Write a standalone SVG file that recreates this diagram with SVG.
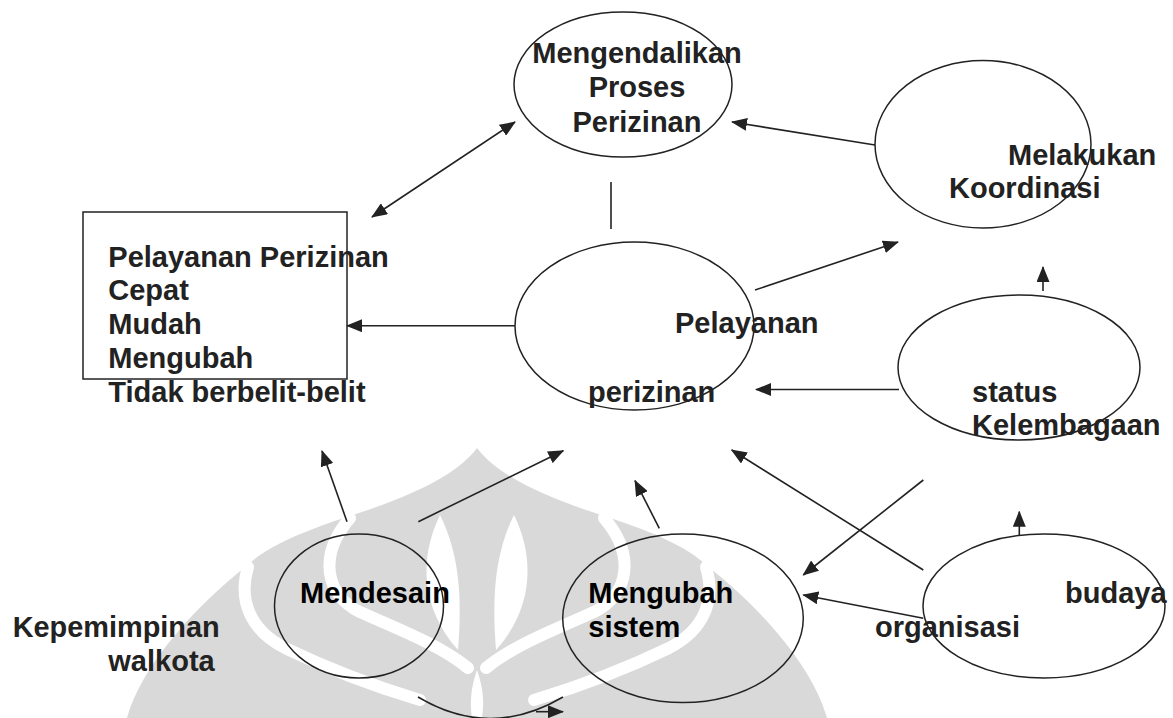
<svg xmlns="http://www.w3.org/2000/svg" width="1173" height="718" viewBox="0 0 1173 718">
<style>
.t{font-family:"Liberation Sans",Arial,sans-serif;font-weight:bold;font-size:29px;fill:#222}
.tb{fill:#000}
.n{fill:none;stroke:#222;stroke-width:1.5}
.c{fill:none;stroke:#222;stroke-width:1.6}
.a{marker-end:url(#ah)}
.wm{fill:#d9d9d9}
.wb{fill:none;stroke:#fff;stroke-width:12;stroke-linecap:round}
</style>
<defs>
<marker id="ah" markerUnits="userSpaceOnUse" markerWidth="16" markerHeight="13" refX="15" refY="6.5" orient="auto-start-reverse" viewBox="0 0 16 13">
<path d="M0,0 L16,6.5 L0,13 z" fill="#222"/>
</marker>
</defs>
<rect width="1173" height="718" fill="#fff"/>
<g id="watermark">
<path class="wm" d="M477,448 C455,478 400,500 350,516 C300,532 265,548 248,565 C190,610 140,670 127,718 L827,718 C814,670 764,610 706,565 C689,548 654,532 604,516 C554,500 499,478 477,448 Z"/>
<path class="wb" d="M350,518 C318,555 325,595 360,612 C400,630 440,645 468,668"/>
<path class="wb" d="M604,518 C636,555 629,595 594,612 C554,630 514,645 486,668"/>
<path class="wb" d="M248,567 C238,600 250,630 285,648 C320,665 360,682 420,700"/>
<path class="wb" d="M706,567 C716,600 704,630 669,648 C634,665 594,682 534,700"/>
<path fill="#fff" d="M440,515 C418,560 422,610 458,650 C462,600 460,555 440,515 Z"/>
<path fill="#fff" d="M514,515 C536,560 532,610 496,650 C492,600 494,555 514,515 Z"/>
<path fill="#fff" d="M477,670 C470,690 470,705 472,718 L482,718 C484,705 484,690 477,670 Z"/>
</g>
<g id="connectors">
<line class="c a" x1="372" y1="217" x2="515" y2="122" marker-start="url(#ah)"/>
<line class="c a" x1="875" y1="145" x2="732" y2="122"/>
<line class="c" x1="611" y1="182" x2="611" y2="229"/>
<line class="c a" x1="515" y1="325.7" x2="347" y2="325.7"/>
<line class="c a" x1="755" y1="290" x2="898" y2="242"/>
<line class="c a" x1="899" y1="389.5" x2="756" y2="389.5"/>
<line class="c a" x1="1043" y1="291" x2="1043" y2="267"/>
<line class="c a" x1="1019.3" y1="535" x2="1019.3" y2="511.7"/>
<line class="c a" x1="347" y1="521.7" x2="322" y2="451"/>
<line class="c a" x1="418.3" y1="521.7" x2="563.3" y2="450.7"/>
<line class="c a" x1="659.3" y1="528.3" x2="635" y2="480.7"/>
<line class="c a" x1="923.3" y1="570" x2="731.7" y2="450"/>
<line class="c a" x1="923.3" y1="480" x2="803.3" y2="575"/>
<line class="c a" x1="923.3" y1="618.3" x2="803.3" y2="595"/>
<path class="c" d="M418,697 Q490,740 563,697"/>
<line class="c a" x1="536" y1="711.7" x2="563" y2="711.7"/>
</g>
<g id="mengendalikan">
<ellipse class="n" cx="623" cy="84.5" rx="109" ry="72.5"/>
<text class="t" x="637" y="63" text-anchor="middle">Mengendalikan</text>
<text class="t" x="637" y="96.7" text-anchor="middle">Proses</text>
<text class="t" x="637" y="131.7" text-anchor="middle">Perizinan</text>
</g>
<g id="koordinasi">
<ellipse class="n" cx="983" cy="144.3" rx="108" ry="83.7"/>
<text class="t" x="1008" y="165">Melakukan</text>
<text class="t" x="949" y="198.3">Koordinasi</text>
</g>
<g id="hasil">
<rect class="n" x="83" y="212" width="264" height="167"/>
<text class="t" x="108.3" y="266.7">Pelayanan Perizinan</text>
<text class="t" x="108.3" y="300">Cepat</text>
<text class="t" x="108.3" y="334">Mudah</text>
<text class="t" x="108.3" y="368.3">Mengubah</text>
<text class="t" x="108.3" y="401.7">Tidak berbelit-belit</text>
</g>
<g id="pelayanan">
<ellipse class="n" cx="634.5" cy="326" rx="119.5" ry="84"/>
<text class="t" x="675" y="333.3">Pelayanan</text>
<text class="t" x="588" y="401.7">perizinan</text>
</g>
<g id="kelembagaan">
<ellipse class="n" cx="1019" cy="367.5" rx="121" ry="72.5"/>
<text class="t" x="972" y="401.7">status</text>
<text class="t" x="972" y="434.5">Kelembagaan</text>
</g>
<g id="mendesain">
<ellipse class="n" cx="359" cy="606" rx="84.5" ry="72"/>
<text class="t tb" x="300" y="603.3">Mendesain</text>
</g>
<g id="mengubah">
<ellipse class="n" cx="683" cy="618.3" rx="120.3" ry="84.3"/>
<text class="t tb" x="588.3" y="603.3">Mengubah</text>
<text class="t tb" x="588.3" y="636.7">sistem</text>
</g>
<g id="budaya">
<ellipse class="n" cx="1044" cy="606" rx="121" ry="72"/>
<text class="t" x="1065" y="602.7">budaya</text>
<text class="t" x="875" y="637">organisasi</text>
</g>
<g id="kepemimpinan">
<text class="t" x="12.7" y="637.3" textLength="207" lengthAdjust="spacingAndGlyphs">Kepemimpinan</text>
<text class="t" x="108.3" y="670.7">walkota</text>
</g>
</svg>
